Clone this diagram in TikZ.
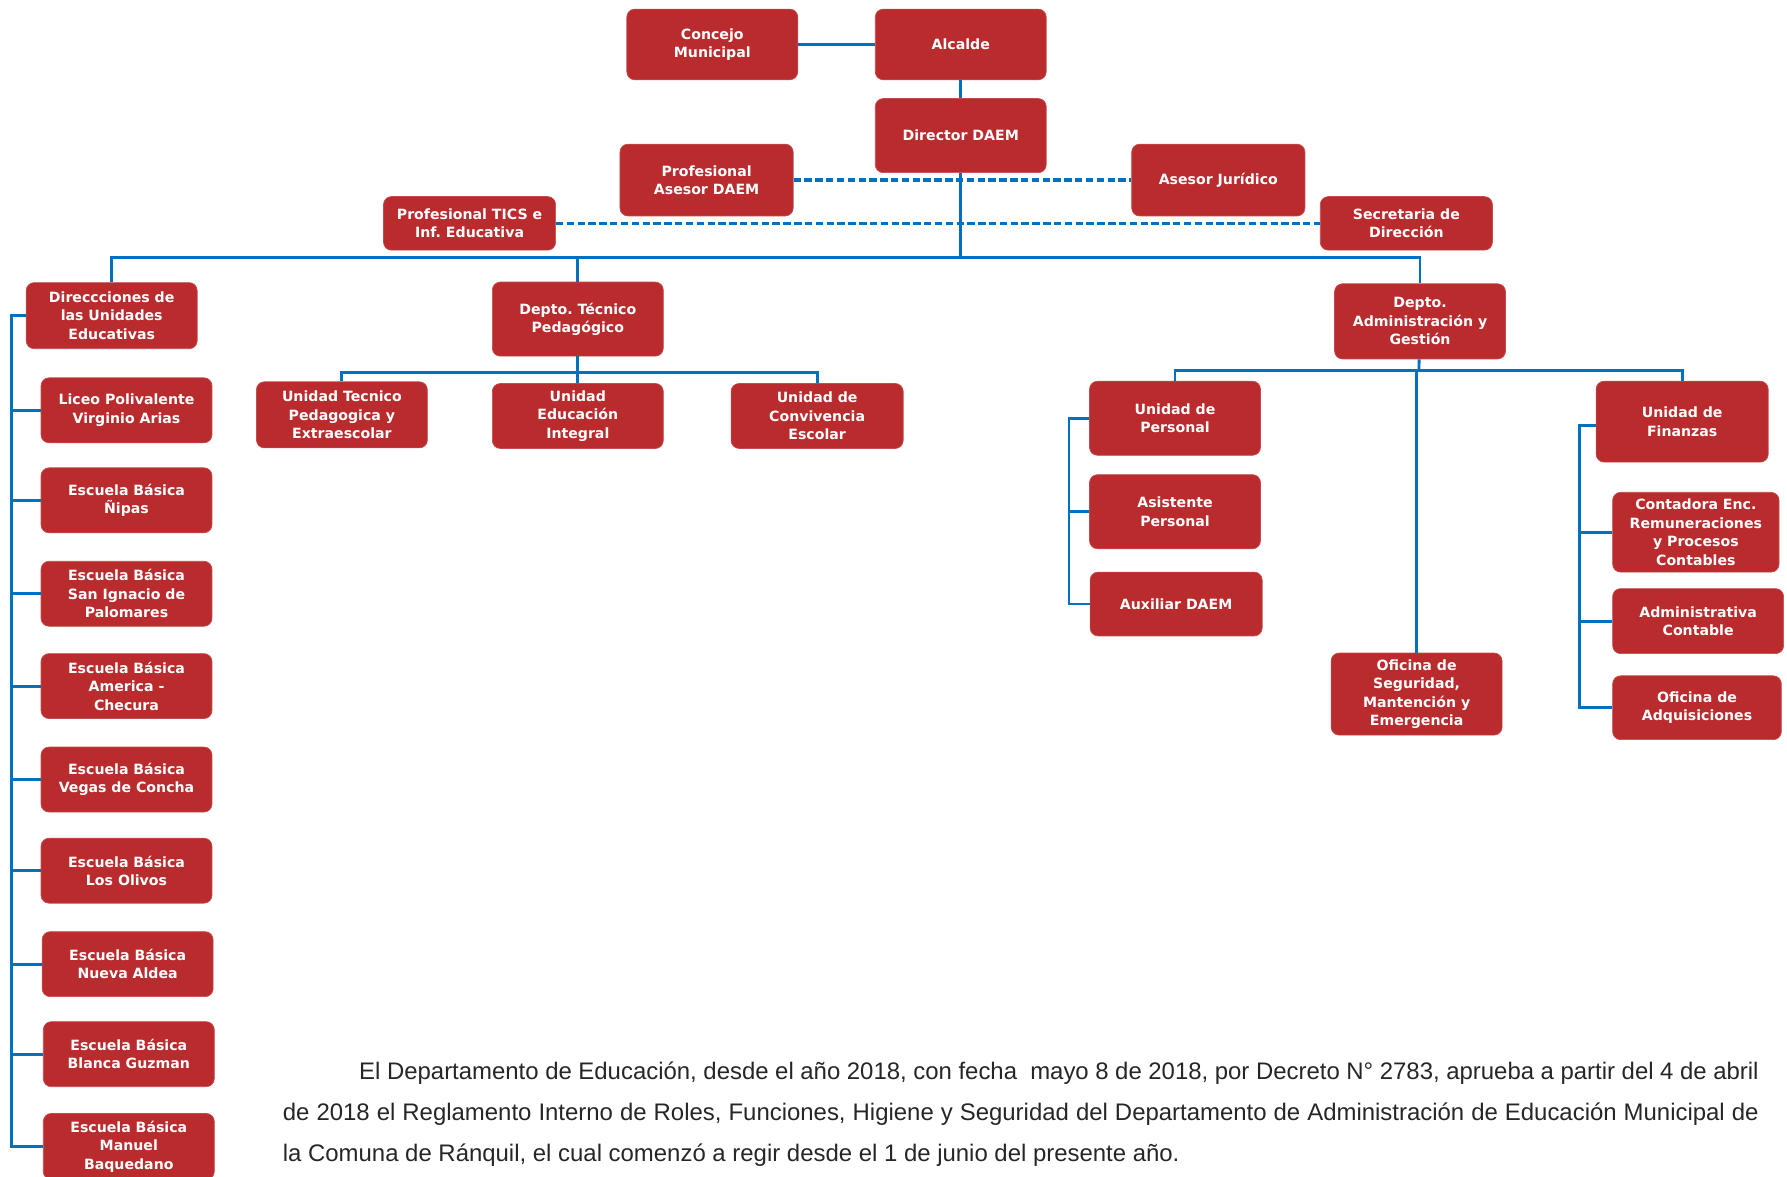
\documentclass[tikz,border=0pt]{standalone}
\usepackage{fontspec}
\setmainfont{Liberation Sans}
\newfontfamily\boxfamily{DejaVu Sans}
\usetikzlibrary{calc}

\definecolor{daemred}{RGB}{186,43,46}
\definecolor{daemblue}{RGB}{0,112,192}

\tikzset{
	unit/.style={rectangle, rounded corners=7pt, fill=daemred, draw=daemred!85!white, line width=0.6pt,
		text=white, align=center, inner sep=0pt, minimum width=150pt, minimum height=57pt,
		font=\boxfamily\bfseries\fontsize{12.4}{16.2}\selectfont},
	link/.style={draw=daemblue, line width=2.5pt},
	assoc/.style={draw=daemblue, line width=2.9pt, dash pattern=on 6.5pt off 3pt}
}

\begin{document}
\frenchspacing
\begin{tikzpicture}[x=1pt, y=-1pt]
		\useasboundingbox (0,0) rectangle (1568,1032);
		%Spitze
		\node[unit, minimum height=62pt] (concejo) at (625,39) {Concejo\\Municipal};
		\node[unit, minimum height=62pt] (alcalde) at (843,39) {Alcalde};
		\node[unit, minimum height=65pt] (director) at (843,119) {Director DAEM};
		%Asesores (gestrichelt)
		\node[unit, minimum width=152pt, minimum height=63pt] (asesor) at (620,158) {Profesional\\Asesor DAEM};
		\node[unit, minimum width=152pt, minimum height=63pt] (juridico) at (1069,158) {Asesor Jurídico};
		\node[unit, minimum width=151pt, minimum height=47pt] (tics) at (412,196) {Profesional TICS e\\Inf. Educativa};
		\node[unit, minimum width=151pt, minimum height=47pt] (secretaria) at (1234,196) {Secretaria de\\Dirección};
		%Departamentos
		\node[unit, minimum height=58pt] (direcciones) at (98,277) {Direccciones de\\las Unidades\\Educativas};
		\node[unit, minimum height=65pt] (tecnico) at (507,280) {Depto. Técnico\\Pedagógico};
		\node[unit, minimum height=66pt] (deptoadm) at (1246,282) {Depto.\\Administración y\\Gestión};
		%Depto. Tecnico
		\node[unit, minimum height=58pt] (utp) at (300,364) {Unidad Tecnico\\Pedagogica y\\Extraescolar};
		\node[unit] (integral) at (507,365) {Unidad\\Educación\\Integral};
		\node[unit, minimum width=151pt] (convivencia) at (717,365) {Unidad de\\Convivencia\\Escolar};
		%Depto. Administracion
		\node[unit, minimum height=65pt] (personal) at (1031,367) {Unidad de\\Personal};
		\node[unit, minimum height=65pt] (asistente) at (1031,449) {Asistente\\Personal};
		\node[unit, minimum width=151pt, minimum height=56pt] (auxiliar) at (1032,530) {Auxiliar DAEM};
		\node[unit, minimum height=72pt] (seguridad) at (1243,609) {Oficina de\\Seguridad,\\Mantención y\\Emergencia};
		\node[unit, minimum width=151pt, minimum height=71pt] (finanzas) at (1476,370) {Unidad de\\Finanzas};
		\node[unit, minimum width=146pt, minimum height=70pt] (contadora) at (1488,467) {Contadora Enc.\\Remuneraciones\\y Procesos\\Contables};
		\node[unit] (contable) at (1490,545) {Administrativa\\Contable};
		\node[unit, minimum width=148pt, minimum height=56pt] (adquisiciones) at (1489,621) {Oficina de\\Adquisiciones};
		%Unidades Educativas
		\node[unit] (liceo) at (111,360) {Liceo Polivalente\\Virginio Arias};
		\node[unit] (nipas) at (111,439) {Escuela Básica\\Ñipas};
		\node[unit] (sanignacio) at (111,521) {Escuela Básica\\San Ignacio de\\Palomares};
		\node[unit] (checura) at (111,602) {Escuela Básica\\America -\\Checura};
		\node[unit] (vegas) at (111,684) {Escuela Básica\\Vegas de Concha};
		\node[unit] (olivos) at (111,764) {Escuela Básica\\Los Olivos};
		\node[unit] (nuevaaldea) at (112,846) {Escuela Básica\\Nueva Aldea};
		\node[unit] (blanca) at (113,925) {Escuela Básica\\Blanca Guzman};
		\node[unit, minimum height=58pt] (baquedano) at (113,1006) {Escuela Básica\\Manuel\\Baquedano};

		%Verbindungen
		\coordinate (mainbus) at (843,226);
		\coordinate (tecbus) at (507,327);
		\coordinate (admbus) at (1245,325);
		\coordinate (schoolrail) at (10,0);
		\coordinate (perrail) at (938,0);
		\coordinate (finrail) at (1386,0);
		\draw[link] (concejo) -- (alcalde);
		\draw[link] (alcalde) -- (director);
		\draw[assoc] (asesor) -- (juridico);
		\draw[assoc] (tics) -- (secretaria);
		\draw[link] (director) -- (mainbus);
		\draw[link] (direcciones.north) -- (direcciones.north |- mainbus) -- (deptoadm.north |- mainbus) -- (deptoadm.north);
		\draw[link] (tecnico.north) -- (tecnico.north |- mainbus);
		\draw[link] (tecnico) -- (tecbus) -- (integral);
		\draw[link] (utp.north) -- (utp.north |- tecbus) -- (convivencia.north |- tecbus) -- (convivencia.north);
		\draw[link] (deptoadm) -- (admbus);
		\draw[link] (personal.north) -- (personal.north |- admbus) -- (finanzas.north |- admbus) -- (finanzas.north);
		\draw[link] (seguridad.north) -- (seguridad.north |- admbus);
		\draw[link] (personal.west) -- (personal.west -| perrail) |- (auxiliar.west);
		\draw[link] (asistente.west) -- (asistente.west -| perrail);
		\draw[link] ([yshift=-3pt]finanzas.west) -- ([yshift=-3pt]finanzas.west -| finrail) |- (adquisiciones.west);
		\draw[link] (contadora.west) -- (contadora.west -| finrail);
		\draw[link] (contable.west) -- (contable.west -| finrail);
		\draw[link] (direcciones.west) -- (direcciones.west -| schoolrail) |- (baquedano.west);
		\draw[link] (liceo.west) -- (liceo.west -| schoolrail);
		\draw[link] (nipas.west) -- (nipas.west -| schoolrail);
		\draw[link] (sanignacio.west) -- (sanignacio.west -| schoolrail);
		\draw[link] (checura.west) -- (checura.west -| schoolrail);
		\draw[link] (vegas.west) -- (vegas.west -| schoolrail);
		\draw[link] (olivos.west) -- (olivos.west -| schoolrail);
		\draw[link] (nuevaaldea.west) -- (nuevaaldea.west -| schoolrail);
		\draw[link] (blanca.west) -- (blanca.west -| schoolrail);

		%Texto
		\node[anchor=base west, inner sep=0pt, font=\fontsize{21}{36}\selectfont, text=black!85] (par1) at (315,947)
			{\makebox[1228pt][s]{El Departamento de Educación, desde el año 2018, con fecha\ \ mayo 8 de 2018, por Decreto N° 2783, aprueba a partir del 4 de abril}};
		\node[anchor=base west, inner sep=0pt, font=\fontsize{21}{36}\selectfont, text=black!85] (par2) at (248,983)
			{\makebox[1295pt][s]{de 2018 el Reglamento Interno de Roles, Funciones, Higiene y Seguridad del Departamento de Administración de Educación Municipal de}};
		\node[anchor=base west, inner sep=0pt, font=\fontsize{21}{36}\selectfont, text=black!85] (par3) at (248,1019)
			{la Comuna de Ránquil, el cual comenzó a regir desde el 1 de junio del presente año.};
	\end{tikzpicture}
\end{document}
